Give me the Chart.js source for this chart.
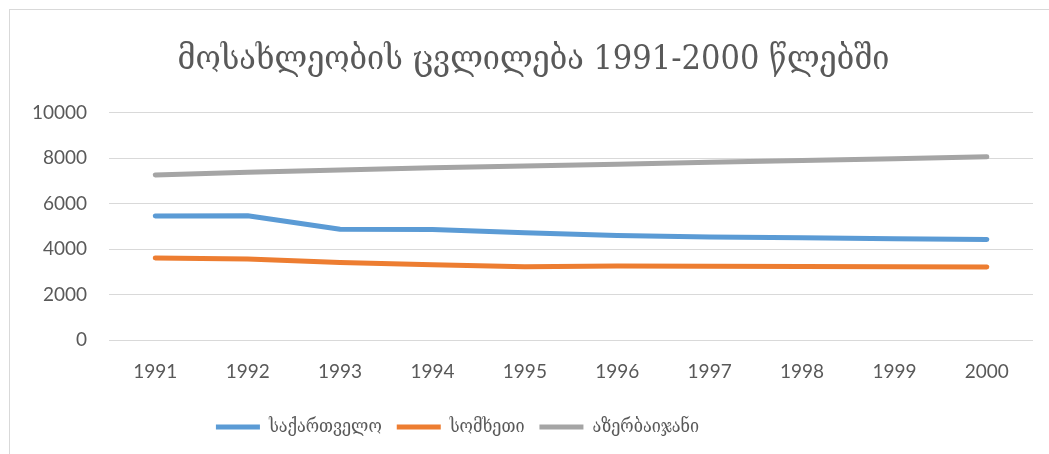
<!DOCTYPE html>
<html>
<head>
<meta charset="utf-8">
<script src="https://cdn.jsdelivr.net/npm/chart.js@4"></script>
<style>
  html, body { margin: 0; padding: 0; background: #fff; overflow: hidden; }
  #wrap { position: relative; width: 1049px; height: 454px; }
  #frame { position: absolute; left: 9px; top: 9px; width: 1100px; height: 500px; border: 1px solid #d9d9d9; pointer-events: none; }
</style>
</head>
<body>
<div id="wrap">
  <canvas id="canvas" width="1049" height="454"></canvas>
  <div id="frame"></div>
</div>
<script>
// Datos del gráfico
const years = ["1991", "1992", "1993", "1994", "1995", "1996", "1997", "1998", "1999", "2000"];
const georgia = [5460, 5470, 4880, 4870, 4730, 4600, 4540, 4500, 4460, 4430];
const armenia = [3620, 3570, 3420, 3320, 3230, 3260, 3250, 3240, 3235, 3220];
const azerbaijan = [7270, 7390, 7480, 7580, 7660, 7740, 7820, 7900, 7980, 8070];
const seriesNames = ["საქართველო", "სომხეთი", "აზერბაიჯანი"];
const chartTitle = "მოსახლეობის ცვლილება 1991-2000 წლებში";

const textColor = "#595959";
const georgianFont = "'DejaVu Serif Condensed', 'DejaVu Serif', serif";

// Crea una serie de línea
const makeSerie = (label, data, color) => ({
  label: label,
  data: data,
  borderColor: color,
  backgroundColor: color,
  borderWidth: 5,
  borderCapStyle: "round",
  borderJoinStyle: "round",
  pointRadius: 0,
  pointHoverRadius: 0,
  pointStyle: "line",
  tension: 0,
  fill: false,
});

// Desplaza el título y la leyenda como en el original (no quedan centrados en el lienzo)
const ajusteCajas = {
  id: "ajusteCajas",
  afterLayout(chart) {
    chart.legend.left -= 64;
    chart.legend.right -= 64;
    chart.titleBlock.left += 12;
    chart.titleBlock.right += 12;
  },
};

const grafico = document.getElementById("canvas");

new Chart(grafico, {
  type: "line",
  data: {
    labels: years,
    datasets: [
      makeSerie(seriesNames[0], georgia, "#5B9BD5"),
      makeSerie(seriesNames[1], armenia, "#ED7D31"),
      makeSerie(seriesNames[2], azerbaijan, "#A5A5A5"),
    ],
  },
  plugins: [ajusteCajas],
  options: {
    responsive: false,
    animation: false,
    layout: { padding: { top: 40, left: 10, right: 16, bottom: 8 } },
    plugins: {
      tooltip: { enabled: false },
      title: {
        display: true,
        text: chartTitle,
        color: textColor,
        font: { family: georgianFont, size: 34, weight: "normal" },
        padding: { top: 0, bottom: 32 },
      },
      legend: {
        position: "bottom",
        labels: {
          usePointStyle: true,
          pointStyleWidth: 44,
          boxWidth: 44,
          boxHeight: 5,
          padding: 15,
          color: textColor,
          font: { family: georgianFont, size: 18 },
        },
      },
    },
    scales: {
      x: {
        offset: true,
        grid: { display: false, drawTicks: false },
        border: { display: false },
        ticks: {
          color: textColor,
          padding: 20,
          font: { family: "Lato, sans-serif", size: 19 },
        },
      },
      y: {
        min: 0,
        max: 10000,
        grid: { color: "#d9d9d9", lineWidth: 1, drawTicks: false },
        border: { display: false },
        ticks: {
          stepSize: 2000,
          color: textColor,
          padding: 22,
          font: { family: "Lato, sans-serif", size: 19 },
          callback: (value) => String(value),
        },
      },
    },
  },
});
</script>
</body>
</html>
